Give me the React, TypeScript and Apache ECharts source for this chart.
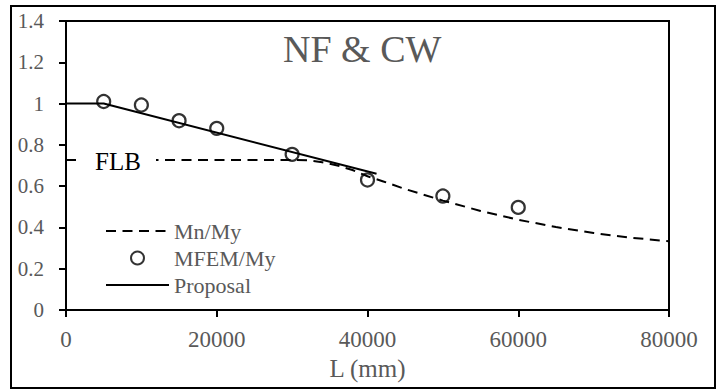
import React, { useEffect, useRef } from "react";
import * as echarts from "echarts";

const mnL = [0, 5000, 10000, 15000, 20000, 25000, 30000, 32000, 34000, 36000, 38000, 40000, 42000, 45000, 50000, 55000, 60000, 65000, 70000, 75000, 80000];
const mnVal = [0.727, 0.727, 0.727, 0.727, 0.727, 0.727, 0.727, 0.726, 0.716, 0.7, 0.678, 0.648, 0.624, 0.586, 0.53, 0.48, 0.437, 0.402, 0.373, 0.35, 0.333];

const femL = [5000, 10000, 15000, 20000, 30000, 40000, 50000, 60000];
const femVal = [1.01, 0.993, 0.917, 0.88, 0.754, 0.63, 0.552, 0.497];

const propL = [0, 5000, 41200];
const propVal = [1.0, 1.0, 0.66];

const xTicks = { min: 0, max: 80000, interval: 20000 };
const yTicks = { min: 0, max: 1.4, interval: 0.2 };

const FONT = "Liberation Serif";
const GRAY = "#595959";

export default function App() {
  const ref = useRef<HTMLDivElement>(null);
  useEffect(() => {
    if (!ref.current) return;
    const chart = echarts.init(ref.current, null, { renderer: "svg" });
    chart.setOption({
      animation: false,
      backgroundColor: "#fff",
      title: {
        text: "NF & CW",
        left: 278,
        top: 25,
        textStyle: { fontFamily: FONT, fontWeight: "normal", fontSize: 38, color: GRAY },
      },
      grid: {
        left: 66,
        right: 51,
        top: 21,
        bottom: 80,
        show: true,
        borderColor: "#000",
        borderWidth: 2,
      },
      legend: {
        orient: "vertical",
        left: 105,
        top: 220,
        padding: 0,
        itemWidth: 63,
        itemHeight: 13,
        itemGap: 5,
        textStyle: { fontFamily: FONT, fontSize: 22, color: GRAY },
        data: [
          { name: "Mn/My", itemStyle: { opacity: 0 } },
          { name: "MFEM/My" },
          { name: "Proposal", itemStyle: { opacity: 0 } },
        ],
      },
      xAxis: {
        type: "value",
        ...xTicks,
        name: "L (mm)",
        nameLocation: "middle",
        nameGap: 45,
        nameTextStyle: { fontFamily: FONT, fontSize: 25, color: GRAY },
        axisLine: { lineStyle: { color: "#000", width: 2 } },
        axisTick: { show: true, length: 7, lineStyle: { color: "#000", width: 2 } },
        axisLabel: {
          fontFamily: FONT,
          fontSize: 23,
          color: GRAY,
          margin: 18,
          formatter: (v: number) => String(v),
        },
        splitLine: { show: false },
      },
      yAxis: {
        type: "value",
        ...yTicks,
        axisLine: { show: true, lineStyle: { color: "#000", width: 2 } },
        axisTick: { show: true, length: 7, lineStyle: { color: "#000", width: 2 } },
        axisLabel: {
          fontFamily: FONT,
          fontSize: 21,
          color: GRAY,
          margin: 22,
          formatter: (v: number) => String(Math.round(v * 10) / 10),
        },
        splitLine: { show: false },
      },
      series: [
        {
          name: "Mn/My",
          type: "line",
          data: mnL.map((l, i) => [l, mnVal[i]]),
          symbol: "none",
          lineStyle: { color: "#000", width: 2, type: [10, 6.5] },
          itemStyle: { color: "#000" },
          z: 2,
        },
        {
          name: "MFEM/My",
          type: "scatter",
          data: femL.map((l, i) => [l, femVal[i]]),
          symbol: "circle",
          symbolSize: 13,
          itemStyle: { color: "rgba(255,255,255,0)", borderColor: "#000", borderWidth: 2.2 },
          z: 4,
        },
        {
          name: "Proposal",
          type: "line",
          data: propL.map((l, i) => [l, propVal[i]]),
          symbol: "none",
          lineStyle: { color: "#000", width: 2 },
          itemStyle: { color: "#000" },
          z: 3,
        },
      ],
      graphic: [
        {
          type: "rect",
          z: 100,
          shape: { x: 11, y: 6, width: 704, height: 382 },
          style: { fill: "none", stroke: "#000", lineWidth: 2 },
        },
        {
          type: "rect",
          z: 100,
          shape: { x: 77, y: 147, width: 79, height: 26 },
          style: { fill: "#fff" },
        },
        {
          type: "text",
          z: 101,
          x: 95,
          y: 161,
          style: { text: "FLB", font: `25px ${FONT}`, fill: "#000", verticalAlign: "middle" },
        },
      ],
    });
    return () => chart.dispose();
  }, []);
  return (
    <div
      ref={ref}
      style={{ position: "absolute", left: 0, top: 0, width: 720, height: 390 }}
    />
  );
}
